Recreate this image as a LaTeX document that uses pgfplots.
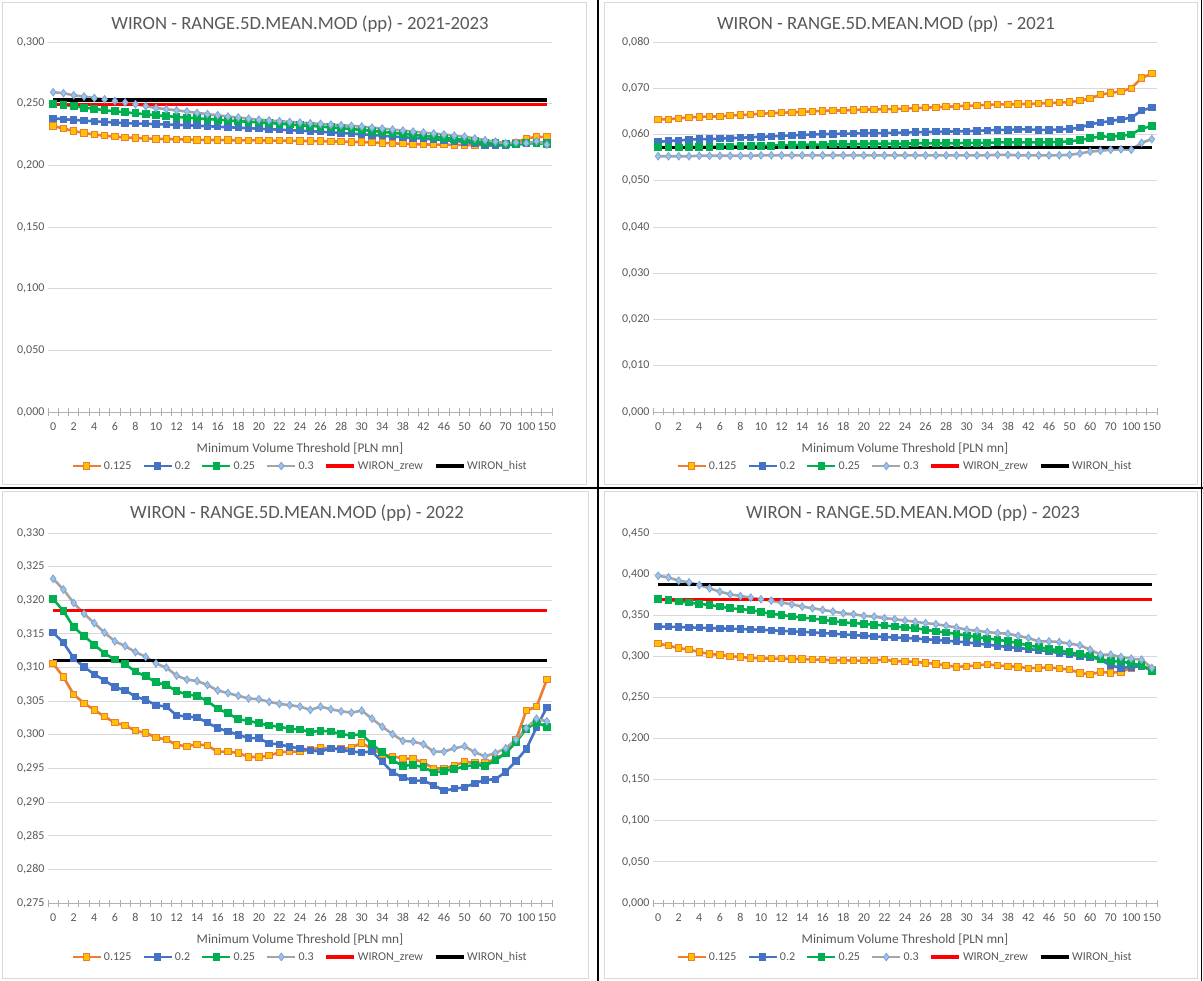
\documentclass[border=0pt]{standalone}
\usepackage{fontspec}
\setmainfont{Carlito}
\usepackage{pgfplots}
\usepackage{pgfplotstable}
\pgfplotsset{compat=1.18}

\definecolor{exOrange}{HTML}{ED7D31}
\definecolor{exYellow}{HTML}{FFC000}
\definecolor{exBlue}{HTML}{4472C4}
\definecolor{exGreen}{HTML}{00B050}
\definecolor{exGrey}{HTML}{A5A5A5}
\definecolor{exDiam}{HTML}{9DC3E6}
\definecolor{exDiamE}{HTML}{7FA3D8}
\definecolor{exText}{HTML}{595959}
\definecolor{exGrid}{HTML}{D9D9D9}

% columns: x  o(0.125)  b(0.2)  g(0.25)  s(0.3)
\pgfplotstableread{
x o b g s
0 .2320 .2382 .2498 .2593
1 .2298 .2374 .2492 .2585
2 .2278 .2368 .2478 .2568
3 .2262 .2363 .2468 .2558
4 .2250 .2357 .2458 .2546
5 .2240 .2352 .2447 .2535
6 .2232 .2347 .2438 .2522
7 .2226 .2342 .2430 .2510
8 .2222 .2339 .2422 .2495
9 .2218 .2337 .2414 .2480
10 .2215 .2334 .2406 .2465
11 .2213 .2331 .2399 .2455
12 .2211 .2328 .2393 .2446
13 .2209 .2325 .2387 .2436
14 .2207 .2321 .2381 .2425
15 .2206 .2317 .2375 .2415
16 .2205 .2313 .2370 .2406
17 .2204 .2309 .2364 .2396
18 .2203 .2305 .2358 .2388
19 .2202 .2301 .2353 .2378
20 .2202 .2297 .2348 .2370
21 .2201 .2293 .2343 .2364
22 .2200 .2289 .2337 .2358
23 .2199 .2285 .2331 .2352
24 .2198 .2281 .2325 .2347
25 .2197 .2277 .2320 .2341
26 .2196 .2272 .2314 .2336
27 .2194 .2267 .2308 .2330
28 .2192 .2262 .2301 .2325
29 .2190 .2257 .2294 .2320
30 .2188 .2252 .2287 .2314
31 .2185 .2246 .2279 .2306
32 .2182 .2240 .2271 .2298
33 .2178 .2234 .2263 .2290
34 .2175 .2228 .2255 .2282
35 .2172 .2222 .2247 .2274
36 .2170 .2216 .2239 .2266
37 .2168 .2210 .2231 .2258
38 .2167 .2204 .2223 .2250
39 .2166 .2198 .2214 .2241
40 .2165 .2190 .2206 .2233
41 .2164 .2180 .2195 .2218
42 .2163 .2165 .2184 .2204
43 .2163 .2160 .2178 .2192
44 .2170 .2163 .2174 .2179
45 .2185 .2168 .2175 .2185
46 .2218 .2175 .2185 .2180
47 .2230 .2182 .2180 .2195
48 .2232 .2185 .2172 .2168
}\dataA

\pgfplotstableread{
x o b g s
0 .0633 .0584 .0573 .0553
1 .0633 .0586 .0572 .0553
2 .0635 .0587 .0572 .0553
3 .0637 .0589 .0573 .0553
4 .0638 .0590 .0573 .0554
5 .0639 .0590 .0573 .0554
6 .0639 .0591 .0574 .0554
7 .0641 .0592 .0574 .0554
8 .0642 .0593 .0575 .0554
9 .0643 .0594 .0575 .0554
10 .0645 .0595 .0576 .0555
11 .0646 .0596 .0576 .0555
12 .0647 .0597 .0577 .0555
13 .0648 .0598 .0577 .0555
14 .0649 .0599 .0578 .0555
15 .0650 .0600 .0578 .0555
16 .0651 .0601 .0578 .0555
17 .0652 .0601 .0579 .0555
18 .0652 .0602 .0579 .0555
19 .0653 .0602 .0579 .0555
20 .0654 .0603 .0580 .0555
21 .0654 .0603 .0580 .0555
22 .0655 .0603 .0580 .0555
23 .0655 .0604 .0580 .0555
24 .0656 .0604 .0580 .0555
25 .0657 .0605 .0581 .0555
26 .0658 .0605 .0581 .0555
27 .0659 .0606 .0581 .0555
28 .0660 .0606 .0581 .0555
29 .0661 .0607 .0581 .0555
30 .0662 .0607 .0582 .0555
31 .0663 .0608 .0582 .0555
32 .0664 .0609 .0582 .0555
33 .0665 .0610 .0583 .0556
34 .0665 .0610 .0583 .0556
35 .0666 .0611 .0583 .0555
36 .0666 .0611 .0583 .0555
37 .0667 .0610 .0583 .0555
38 .0668 .0610 .0583 .0555
39 .0669 .0611 .0584 .0555
40 .0670 .0612 .0585 .0556
41 .0673 .0615 .0588 .0559
42 .0678 .0622 .0592 .0563
43 .0686 .0626 .0596 .0565
44 .0690 .0629 .0595 .0567
45 .0693 .0633 .0597 .0568
46 .0700 .0636 .0600 .0567
47 .0722 .0652 .0613 .0582
48 .0732 .0658 .0618 .0590
}\dataB

\pgfplotstableread{
x o b g s
0 .3106 .3152 .3202 .3232
1 .3086 .3137 .3184 .3216
2 .3060 .3114 .3160 .3196
3 .3047 .3101 .3147 .3180
4 .3037 .3090 .3134 .3166
5 .3027 .3081 .3121 .3152
6 .3018 .3071 .3112 .3139
7 .3014 .3066 .3105 .3132
8 .3006 .3057 .3094 .3123
9 .3003 .3052 .3087 .3116
10 .2996 .3044 .3078 .3106
11 .2993 .3042 .3074 .3100
12 .2985 .3029 .3065 .3088
13 .2983 .3027 .3060 .3082
14 .2986 .3026 .3058 .3080
15 .2984 .3018 .3050 .3074
16 .2975 .3010 .3039 .3066
17 .2975 .3005 .3032 .3062
18 .2973 .3000 .3023 .3058
19 .2967 .2995 .3021 .3054
20 .2967 .2995 .3017 .3053
21 .2969 .2987 .3014 .3049
22 .2974 .2986 .3012 .3046
23 .2975 .2982 .3009 .3044
24 .2975 .2980 .3008 .3042
25 .2978 .2977 .3004 .3037
26 .2981 .2975 .3006 .3042
27 .2980 .2980 .3005 .3038
28 .2979 .2978 .3001 .3035
29 .2981 .2975 .2999 .3033
30 .2988 .2974 .3001 .3036
31 .2979 .2975 .2986 .3024
32 .2971 .2960 .2974 .3012
33 .2968 .2944 .2962 .3001
34 .2965 .2937 .2954 .2991
35 .2964 .2932 .2955 .2990
36 .2959 .2932 .2952 .2986
37 .2950 .2925 .2944 .2975
38 .2950 .2917 .2946 .2975
39 .2954 .2920 .2949 .2980
40 .2960 .2922 .2953 .2983
41 .2958 .2928 .2955 .2974
42 .2958 .2933 .2954 .2968
43 .2964 .2934 .2962 .2973
44 .2973 .2945 .2973 .2980
45 .2993 .2961 .2989 .2993
46 .3036 .2979 .3009 .3010
47 .3042 .3011 .3018 .3024
48 .3082 .3041 .3012 .3020
}\dataC

\pgfplotstableread{
x o b g s
0 .3154 .3363 .3698 .3980
1 .3130 .3360 .3682 .3960
2 .3101 .3356 .3666 .3920
3 .3081 .3352 .3654 .3900
4 .3053 .3348 .3637 .3867
5 .3029 .3343 .3625 .3827
6 .3017 .3340 .3605 .3786
7 .3001 .3336 .3585 .3754
8 .2992 .3332 .3573 .3734
9 .2980 .3328 .3565 .3714
10 .2976 .3323 .3540 .3694
11 .2972 .3317 .3516 .3678
12 .2972 .3310 .3504 .3653
13 .2968 .3304 .3484 .3633
14 .2968 .3298 .3472 .3605
15 .2960 .3291 .3460 .3585
16 .2960 .3283 .3444 .3565
17 .2952 .3275 .3428 .3545
18 .2952 .3267 .3412 .3524
19 .2948 .3258 .3404 .3512
20 .2948 .3250 .3396 .3492
21 .2952 .3243 .3384 .3484
22 .2960 .3236 .3375 .3464
23 .2940 .3229 .3363 .3452
24 .2940 .3223 .3351 .3436
25 .2932 .3218 .3343 .3420
26 .2920 .3208 .3323 .3404
27 .2908 .3199 .3303 .3391
28 .2888 .3190 .3291 .3371
29 .2872 .3180 .3271 .3351
30 .2880 .3170 .3254 .3323
31 .2888 .3156 .3234 .3311
32 .2904 .3142 .3218 .3295
33 .2888 .3128 .3202 .3283
34 .2880 .3113 .3182 .3275
35 .2872 .3101 .3162 .3250
36 .2855 .3089 .3130 .3222
37 .2859 .3075 .3114 .3182
38 .2867 .3061 .3089 .3182
39 .2851 .3041 .3073 .3174
40 .2839 .3021 .3049 .3154
41 .2799 .3006 .3029 .3134
42 .2779 .2992 .3009 .3081
43 .2811 .2960 .2968 .3021
44 .2799 .2888 .2940 .3021
45 .2811 .2859 .2940 .2992
46 .2859 .2872 .2912 .2972
47 .2888 .2880 .2892 .2960
48 .2839 .2831 .2820 .2859
}\dataD

\pgfplotsset{
  wbase/.style={
    scale only axis, width=504pt, height=370pt, anchor=south west,
    xmin=-0.5, xmax=48.5,
    axis x line*=bottom, axis y line*=left,
    y axis line style={draw=none},
    x axis line style={draw=black!30, line width=0.9pt},
    ymajorgrids, grid style={exGrid, line width=0.9pt},
    xtick={0,2,...,48},
    xticklabels={0,2,4,6,8,10,12,14,16,18,20,22,24,26,28,30,34,38,42,46,50,60,70,100,150},
    extra x ticks={-0.5,0.5,...,48.5}, extra x tick labels={},
    extra x tick style={major tick length=7pt, tick align=center, tick style={draw=black!32, line width=0.8pt}, grid=none},
    major tick length=0pt,
    ytick style={draw=none},
    scaled y ticks=false,
    tick label style={font=\fontsize{12}{14}\selectfont, text=exText},
    x tick label style={yshift=-7pt},
    y tick label style={/pgf/number format/fixed, /pgf/number format/fixed zerofill, /pgf/number format/precision=3, /pgf/number format/use comma, /pgf/number format/assume math mode=true},
    xlabel={Minimum Volume Threshold [PLN mn]},
    xlabel style={font=\fontsize{13.3}{15}\selectfont, text=exText, at={(axis description cs:0.5,0)}, anchor=center, yshift=-37pt},
    legend style={at={(axis description cs:0.5,0)}, anchor=center, yshift=-54pt, draw=none, fill=none,
      font=\fontsize{12}{14}\selectfont, text=exText, inner sep=0pt,
      /tikz/every even column/.append style={column sep=9pt}},
    legend columns=-1,
    legend image code/.code={\draw[##1, mark repeat=2, mark phase=2] plot coordinates {(0pt,0pt) (14pt,0pt) (28pt,0pt)};},
    clip=false,
  },
  sO/.style={exOrange, line width=2.6pt, mark=square*, mark size=3.2pt, mark options={fill=exYellow, draw=exOrange, line width=1pt, solid}},
  sB/.style={exBlue, line width=2.6pt, mark=square*, mark size=3.2pt, mark options={fill=exBlue, draw=exBlue, line width=1pt, solid}},
  sG/.style={exGreen, line width=2.6pt, mark=square*, mark size=3.4pt, mark options={fill=exGreen, draw=exGreen, line width=1pt, solid}},
  sS/.style={exGrey, line width=2.6pt, mark=diamond*, mark size=3.8pt, mark options={fill=exDiam, draw=exDiamE, line width=0.8pt, solid}},
  sR/.style={red, line width=3.2pt},
  sK/.style={black, line width=3.2pt},
}

\newcommand\ttl[1]{\fontsize{18.7}{21}\selectfont\color{exText}#1}

\begin{document}
\begin{tikzpicture}
\path[use as bounding box, fill=white] (0pt,0pt) rectangle (1203pt,-981pt);
\draw[exGrid, line width=1pt] (2.5pt,-2.5pt) rectangle (586pt,-484.5pt);
\draw[exGrid, line width=1pt] (604pt,-2.5pt) rectangle (1197pt,-484.5pt);
\draw[exGrid, line width=1pt] (2.5pt,-492pt) rectangle (588pt,-978pt);
\draw[exGrid, line width=1pt] (604pt,-492pt) rectangle (1197pt,-978pt);
\draw[black, line width=1.6pt] (598pt,0pt) -- (598pt,-981pt);
\draw[black, line width=1.6pt] (0pt,-488pt) -- (1203pt,-488pt);
\draw[black, line width=1.2pt] (1201.5pt,0pt) -- (1201.5pt,-981pt);

% Panel 1
\begin{axis}[wbase, at={(48pt,-412pt)}, ymin=0, ymax=0.3, ytick={0,0.05,0.1,0.15,0.2,0.25,0.3}]
\addplot[sO] table[x=x,y=o]{\dataA};
\addplot[sB] table[x=x,y=b]{\dataA};
\addplot[sG] table[x=x,y=g]{\dataA};
\addplot[sS] table[x=x,y=s]{\dataA};
\addplot[sR] coordinates {(0,0.2495) (48,0.2495)};
\addplot[sK] coordinates {(0,0.2530) (48,0.2530)};
\legend{0.125,0.2,0.25,0.3,WIRON\_zrew,WIRON\_hist}
\end{axis}
\node at (300pt,-24pt) {\ttl{WIRON - RANGE.5D.MEAN.MOD (pp) - 2021-2023}};

% Panel 2
\begin{axis}[wbase, at={(653pt,-412pt)}, ymin=0, ymax=0.08, ytick={0,0.01,0.02,0.03,0.04,0.05,0.06,0.07,0.08}]
\addplot[sO] table[x=x,y=o]{\dataB};
\addplot[sB] table[x=x,y=b]{\dataB};
\addplot[sG] table[x=x,y=g]{\dataB};
\addplot[sS] table[x=x,y=s]{\dataB};
\addplot[sR] coordinates {(0,0.0572) (48,0.0572)};
\addplot[sK] coordinates {(0,0.0572) (48,0.0572)};
\legend{0.125,0.2,0.25,0.3,WIRON\_zrew,WIRON\_hist}
\end{axis}
\node at (886pt,-24pt) {\ttl{WIRON - RANGE.5D.MEAN.MOD (pp) \ - 2021}};

% Panel 3
\begin{axis}[wbase, at={(48pt,-903pt)}, ymin=0.275, ymax=0.330, ytick={0.275,0.28,0.285,0.29,0.295,0.3,0.305,0.31,0.315,0.32,0.325,0.33}]
\addplot[sO] table[x=x,y=o]{\dataC};
\addplot[sB] table[x=x,y=b]{\dataC};
\addplot[sG] table[x=x,y=g]{\dataC};
\addplot[sS] table[x=x,y=s]{\dataC};
\addplot[sR] coordinates {(0,0.3185) (48,0.3185)};
\addplot[sK] coordinates {(0,0.3110) (48,0.3110)};
\legend{0.125,0.2,0.25,0.3,WIRON\_zrew,WIRON\_hist}
\end{axis}
\node at (297pt,-513pt) {\ttl{WIRON - RANGE.5D.MEAN.MOD (pp) - 2022}};

% Panel 4
\begin{axis}[wbase, at={(653pt,-903pt)}, ymin=0, ymax=0.45, ytick={0,0.05,0.1,0.15,0.2,0.25,0.3,0.35,0.4,0.45}]
\addplot[sO] table[x=x,y=o]{\dataD};
\addplot[sB] table[x=x,y=b]{\dataD};
\addplot[sG] table[x=x,y=g]{\dataD};
\addplot[sS] table[x=x,y=s]{\dataD};
\addplot[sR] coordinates {(0,0.369) (48,0.369)};
\addplot[sK] coordinates {(0,0.3875) (48,0.3875)};
\legend{0.125,0.2,0.25,0.3,WIRON\_zrew,WIRON\_hist}
\end{axis}
\node at (913pt,-513pt) {\ttl{WIRON - RANGE.5D.MEAN.MOD (pp) - 2023}};
\end{tikzpicture}
\end{document}
